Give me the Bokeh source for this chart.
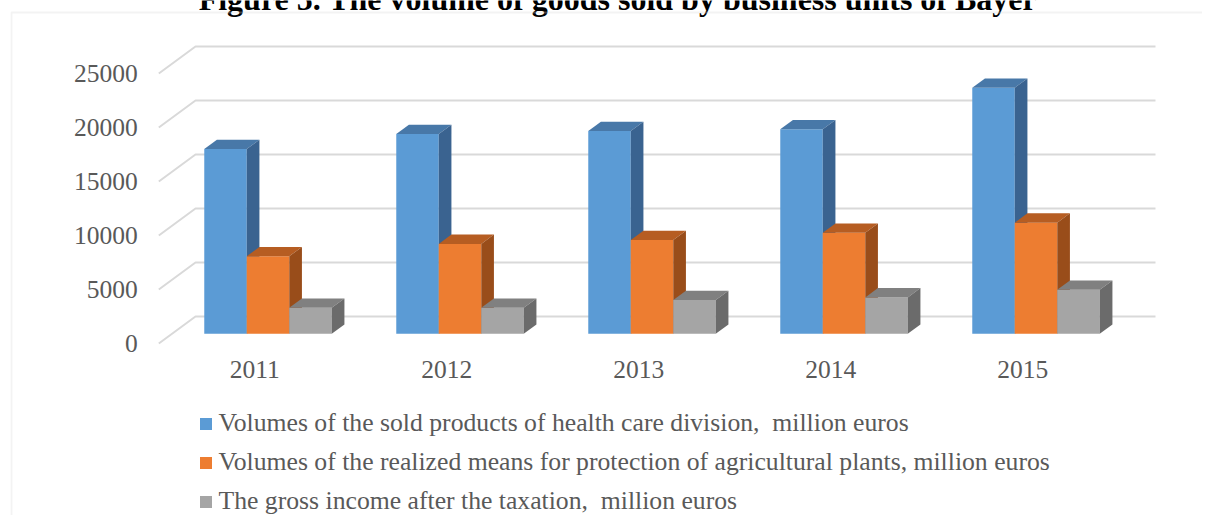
from bokeh.plotting import figure
from bokeh.models import Range1d, Legend, LegendItem, BoxAnnotation
from bokeh.core.properties import value
from bokeh.embed import file_html
from bokeh.resources import INLINE

# ---------------- data ----------------
years = ["2011", "2012", "2013", "2014", "2015"]
health_care = [17100, 18500, 18780, 18930, 22780]
crop_protection = [7180, 8320, 8680, 9360, 10290]
income_after_tax = [2400, 2400, 3130, 3370, 4080]
series_names = [
    "Volumes of the sold products of health care division,  million euros",
    "Volumes of the realized means for protection of agricultural plants, million euros",
    "The gross income after the taxation,  million euros",
]
y_ticks = [0, 5000, 10000, 15000, 20000, 25000]
y_tick_labels = ["0", "5000", "10000", "15000", "20000", "25000"]
title_text = "Figure 5. The volume of goods sold by business units of Bayer"

# ---------------- styles ----------------
front_colors = ["#5B9BD5", "#ED7D31", "#A5A5A5"]
top_colors = ["#4878A8", "#B65D22", "#808080"]
side_colors = ["#3A6390", "#994D1A", "#6B6B6B"]
grid_color = "#D9D9D9"
text_color = "#595959"
FONT_NAME = "Liberation Serif"
FONT = value(FONT_NAME)

W, H = 1202, 515
FRONT_LEFT_PX = 158.3      # canvas x of the front-left edge of the floor
SLOT_PX = 192.0            # width of one category slot
ZERO_PX = 343.0            # canvas y of value 0 on the front plane
PX_PER_UNIT = 54.0 / 5000  # pixels per value unit
DEPTH_DX_PX = 36.7
DEPTH_DY_PX = 27.0
BAR_W = 42.5 / SLOT_PX
D0 = 0.36                  # depth of bar front
DD = 0.345                 # bar depth

x_start = -0.5 - FRONT_LEFT_PX / SLOT_PX
x_end = -0.5 + (W - FRONT_LEFT_PX) / SLOT_PX
y_end = ZERO_PX / PX_PER_UNIT
y_start = -(H - ZERO_PX) / PX_PER_UNIT
DX = DEPTH_DX_PX / SLOT_PX
DY = DEPTH_DY_PX / PX_PER_UNIT


def cx(px):
    return x_start + px / SLOT_PX


def cy(py):
    return y_end - py / PX_PER_UNIT


p = figure(width=W, height=H, output_backend="svg", toolbar_location=None,
           x_range=Range1d(x_start, x_end), y_range=Range1d(y_start, y_end),
           x_axis_type=None, y_axis_type=None, min_border=0)
p.outline_line_color = None
p.background_fill_color = "white"

# outer chart border
p.add_layout(BoxAnnotation(left=cx(11), top=cy(12), right=x_end + 5, bottom=y_start - 50000,
                           fill_alpha=0, line_color="#D6D6D6", line_width=1.8))

# back-wall gridlines with side-wall diagonals
n = len(years)
p.multi_line(xs=[[-0.5, -0.5 + DX, n - 0.5 + DX] for _ in y_ticks],
             ys=[[v, v + DY, v + DY] for v in y_ticks],
             line_color=grid_color, line_width=2)

# tick labels
p.text(x=[-0.5] * len(y_ticks), y=y_ticks, text=y_tick_labels, x_offset=-21,
       text_align="right", text_baseline="middle", text_font=FONT,
       text_font_size="25.5px", text_color=text_color)

# category labels
p.text(x=list(range(n)), y=[0] * n, text=years, y_offset=26,
       text_align="center", text_baseline="middle", text_font=FONT,
       text_font_size="25.5px", text_color=text_color)

# 3D bars
series = [health_care, crop_protection, income_after_tax]
group_w = BAR_W * len(series)
front_renderers = []
for s, vals in enumerate(series):
    lefts = [i - group_w / 2 + s * BAR_W + DX * D0 for i in range(n)]
    rights = [l + BAR_W for l in lefts]
    bottoms = [DY * D0] * n
    tops = [v + DY * D0 for v in vals]
    ddx, ddy = DX * DD, DY * DD
    r = p.quad(left=lefts, right=rights, bottom=bottoms, top=tops,
               fill_color=front_colors[s], line_color=None)
    front_renderers.append(r)
    p.patches(xs=[[l, rr, rr + ddx, l + ddx] for l, rr in zip(lefts, rights)],
              ys=[[t, t, t + ddy, t + ddy] for t in tops],
              fill_color=top_colors[s], line_color=None)
    p.patches(xs=[[rr, rr, rr + ddx, rr + ddx] for rr in rights],
              ys=[[b, t, t + ddy, b + ddy] for b, t in zip(bottoms, tops)],
              fill_color=side_colors[s], line_color=None)

# title (its upper part lies above the picture, as in the reference)
p.text(x=[cx(617.5)], y=[cy(-1.8)], text=[title_text], text_align="center",
       text_baseline="middle", text_font=FONT, text_font_style="bold",
       text_font_size="32px", text_color="black")

legend = Legend(items=[LegendItem(label=nm, renderers=[r]) for nm, r in zip(series_names, front_renderers)],
                location=(197.5, -1), orientation="vertical",
                glyph_width=15, glyph_height=15, label_standoff=6, spacing=9,
                label_height=30,
                label_text_font=FONT_NAME, label_text_font_size="25.7px", label_text_color=text_color,
                background_fill_alpha=0, border_line_color=None, padding=0, margin=0)
p.add_layout(legend)

open("out.html", "w").write(file_html(p, INLINE))
